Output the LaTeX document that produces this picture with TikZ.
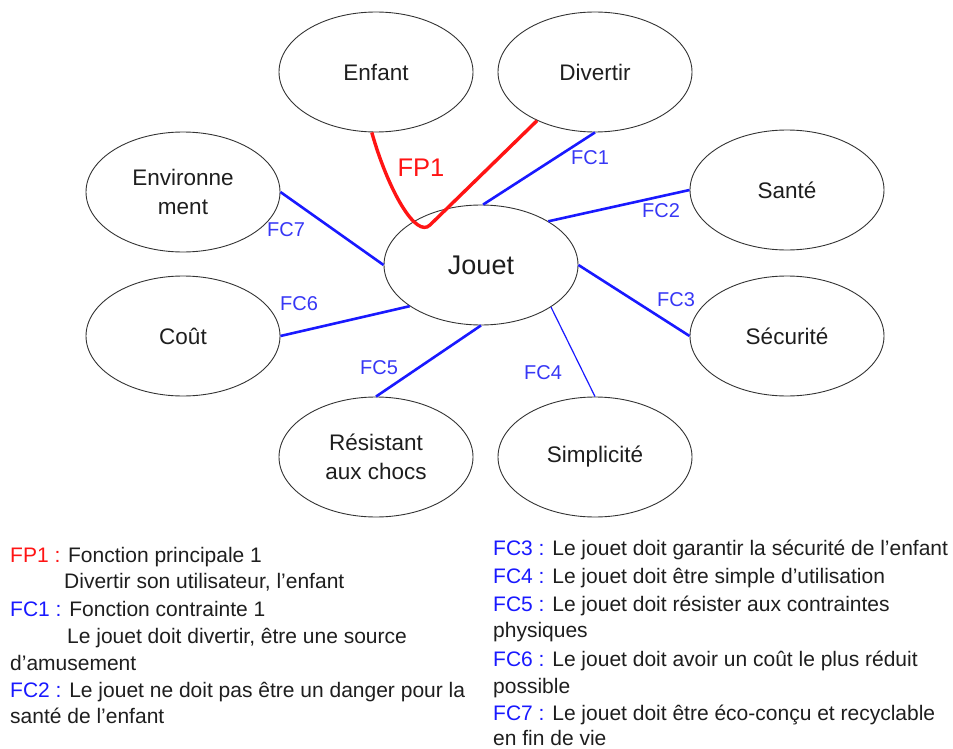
\documentclass[tikz,border=0pt]{standalone}
\usepackage{fontspec}
\setmainfont{Liberation Sans}
\usetikzlibrary{shapes.geometric}
\definecolor{fcblue}{RGB}{25,25,255}
\definecolor{lblblue}{RGB}{55,55,245}
\definecolor{fpred}{RGB}{255,20,20}
\definecolor{txt}{RGB}{30,30,30}
\begin{document}
\begin{tikzpicture}[x=1pt,y=-1pt,
  bubble/.style={ellipse, draw=black!80, line width=0.9pt, minimum width=194pt, minimum height=120pt, inner sep=0pt, align=center, font=\fontsize{22.5}{29}\selectfont, text=txt},
  fcline/.style={draw=fcblue, line width=2.6pt},
  fclbl/.style={text=lblblue, font=\fontsize{20}{22}\selectfont, inner sep=0pt},
  legend/.style={anchor=base west, inner sep=0pt, text=txt, font=\fontsize{21}{24}\selectfont}]
\useasboundingbox (0,0) rectangle (953,749);

% ellipses
\node[bubble] (enfant) at (376,72) {Enfant};
\node[bubble] (divertir) at (595,72) {Divertir};
\node[bubble] (env) at (183,192) {Environne\\ment};
\node[bubble] (sante) at (787,190) {Santé};
\node[bubble, font=\fontsize{27}{30}\selectfont] (jouet) at (481,265) {Jouet};
\node[bubble] (cout) at (183,336) {Coût};
\node[bubble] (secu) at (787,336) {Sécurité};
\node[bubble] (resist) at (376,457) {Résistant\\aux chocs};
\node[bubble] (simpl) at (595,457) {Simplicité};

% connectors
\draw[fcline] (jouet.88) -- (divertir.south);
\draw[fcline] (jouet.33) -- (sante.west);
\draw[fcline] (jouet.east) -- (secu.west);
\draw[draw=fcblue, line width=1.2pt] (jouet.-31) -- (simpl.north);
\draw[fcline] (jouet.south) -- (resist.north);
\draw[fcline] (jouet.210) -- (cout.east);
\draw[fcline] (env.east) -- (jouet.west);
\coordinate (fpb) at (430,225);
\draw[draw=fpred, line width=3.4pt] (enfant.-94) .. controls (388,190) and (416,239) .. (fpb) -- (divertir.-140);

% labels
\node[text=fpred, font=\fontsize{25.5}{28}\selectfont, inner sep=0pt] (lfp1) at (421,168) {FP1};
\node[fclbl] (lfc1) at (590,158) {FC1};
\node[fclbl] (lfc2) at (661,211) {FC2};
\node[fclbl] (lfc3) at (676,300) {FC3};
\node[fclbl] (lfc4) at (543,373) {FC4};
\node[fclbl] (lfc5) at (379,368) {FC5};
\node[fclbl] (lfc6) at (299,304) {FC6};
\node[fclbl] (lfc7) at (286,230) {FC7};

% legend left
\node[legend] (g1) at (10,562) {\textcolor{fpred}{FP1 :} Fonction principale 1};
\node[legend] (g2) at (64,588) {Divertir son utilisateur, l’enfant};
\node[legend] (g3) at (10,616) {\textcolor{fcblue}{FC1 :} Fonction contrainte 1};
\node[legend] (g4) at (67,643) {Le jouet doit divertir, être une source};
\node[legend] (g5) at (10,670) {d’amusement};
\node[legend] (g6) at (10,697) {\textcolor{fcblue}{FC2 :} Le jouet ne doit pas être un danger pour la};
\node[legend] (g7) at (10,723) {santé de l’enfant};

% legend right
\node[legend] (h1) at (493,555) {\textcolor{fcblue}{FC3 :} Le jouet doit garantir la sécurité de l’enfant};
\node[legend] (h2) at (493,583) {\textcolor{fcblue}{FC4 :} Le jouet doit être simple d’utilisation};
\node[legend] (h3) at (493,611) {\textcolor{fcblue}{FC5 :} Le jouet doit résister aux contraintes};
\node[legend] (h4) at (493,637) {physiques};
\node[legend] (h5) at (493,666) {\textcolor{fcblue}{FC6 :} Le jouet doit avoir un coût le plus réduit};
\node[legend] (h6) at (493,693) {possible};
\node[legend] (h7) at (493,720) {\textcolor{fcblue}{FC7 :} Le jouet doit être éco-conçu et recyclable};
\node[legend] (h8) at (493,745) {en fin de vie};
\end{tikzpicture}
\end{document}
